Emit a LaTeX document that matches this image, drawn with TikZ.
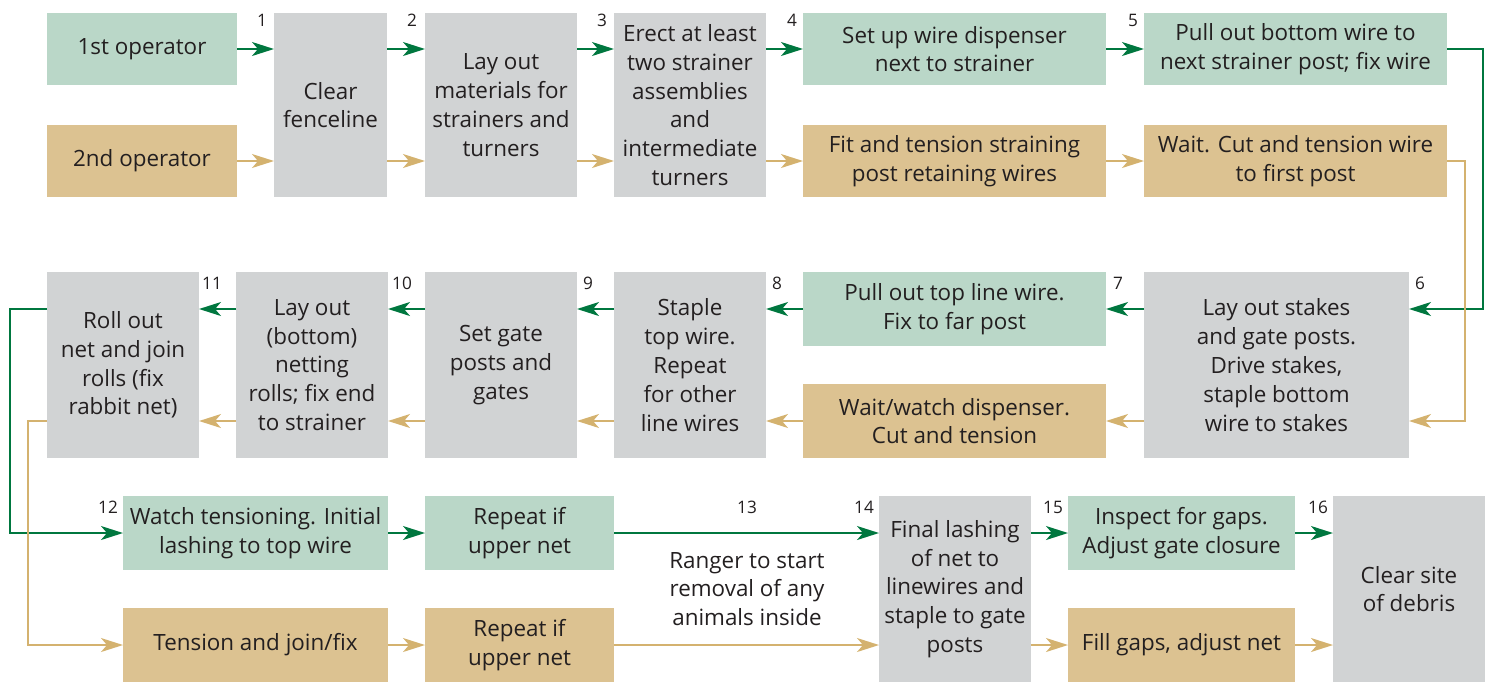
\documentclass[tikz,border=0pt]{standalone}
\usepackage{fontspec}
\setmainfont{Open Sans}
\usetikzlibrary{arrows.meta,calc}
\definecolor{gbox}{HTML}{BAD7C8}
\definecolor{tbox}{HTML}{DCC291}
\definecolor{ybox}{HTML}{D1D3D4}
\definecolor{gline}{HTML}{00773F}
\definecolor{tline}{HTML}{D4B26F}
\definecolor{txt}{HTML}{231F20}
\newcommand\bx[7]{%
  \pgfmathsetmacro\cx{(#3+#5)/2}\pgfmathsetmacro\cy{(#4+#6)/2}%
  \pgfmathsetmacro\ww{(#5-#3)*0.5}\pgfmathsetmacro\hh{(#6-#4)*0.5}%
  \node[#2, minimum width=\ww pt, minimum height=\hh pt] (#1) at (\cx,\cy) {#7};}
\begin{document}
\begin{tikzpicture}[x=0.5pt,y=-0.5pt,
  box/.style={inner sep=0pt,outer sep=0pt,align=center,text=txt,font=\fontsize{11.2}{14.4}\selectfont},
  gb/.style={box,fill=gbox},
  tb/.style={box,fill=tbox},
  yb/.style={box,fill=ybox},
  num/.style={text=txt,font=\fontsize{8.6}{10}\selectfont,inner sep=0pt},
  garr/.style={draw=gline,line width=0.9pt,-{Stealth[length=11pt,width=7pt,inset=3pt]}},
  tarr/.style={draw=tline,line width=0.8pt,-{Stealth[length=11pt,width=7pt,inset=3pt]}}]
\useasboundingbox (0,0) rectangle (1487,682);
% row 1
\bx{op1}{gb}{47}{13}{237}{85}{1st operator}
\bx{op2}{tb}{47}{125}{237}{197}{2nd operator}
\bx{clear}{yb}{274}{13}{387}{197}{Clear\\fenceline}
\bx{layout}{yb}{425}{13}{577}{197}{Lay out\\materials for\\strainers and\\turners}
\bx{erect}{yb}{614}{13}{766}{197}{Erect at least\\two strainer\\assemblies\\and\\intermediate\\turners}
\bx{setup}{gb}{803}{13}{1106}{85}{Set up wire dispenser\\next to strainer}
\bx{fit}{tb}{803}{125}{1106}{197}{Fit and tension straining\\post retaining wires}
\bx{pullb}{gb}{1144}{13}{1447}{85}{Pull out bottom wire to\\next strainer post; fix wire}
\bx{waitc}{tb}{1144}{125}{1447}{197}{Wait. Cut and tension wire\\to first post}
% row 2
\bx{roll}{yb}{47}{272}{199}{458}{Roll out\\net and join\\rolls (fix\\rabbit net)}
\bx{layb}{yb}{236}{272}{388}{458}{Lay out\\(bottom)\\netting\\rolls; fix end\\to strainer}
\bx{setg}{yb}{425}{272}{577}{458}{Set gate\\posts and\\gates}
\bx{staple}{yb}{614}{272}{766}{458}{Staple\\top wire.\\Repeat\\for other\\line wires}
\bx{topw}{gb}{803}{272}{1106}{346}{Pull out top line wire.\\Fix to far post}
\bx{waitw}{tb}{803}{384}{1106}{458}{Wait/watch dispenser.\\Cut and tension}
\bx{stakes}{yb}{1144}{272}{1409}{458}{Lay out stakes\\and gate posts.\\Drive stakes,\\staple bottom\\wire to stakes}
% row 3
\bx{watch}{gb}{123}{496}{388}{570}{Watch tensioning. Initial\\lashing to top wire}
\bx{tens}{tb}{123}{608}{388}{682}{Tension and join/fix}
\bx{rep1}{gb}{425}{496}{614}{570}{Repeat if\\upper net}
\bx{rep2}{tb}{425}{608}{614}{682}{Repeat if\\upper net}
\bx{final}{yb}{879}{496}{1031}{682}{Final lashing\\of net to\\linewires and\\staple to gate\\posts}
\bx{insp}{gb}{1068}{496}{1295}{570}{Inspect for gaps.\\Adjust gate closure}
\bx{fill}{tb}{1068}{608}{1295}{682}{Fill gaps, adjust net}
\bx{site}{yb}{1333}{496}{1485}{682}{Clear site\\of debris}
\node[box] (ranger) at (747,589) {Ranger to start\\removal of any\\animals inside};
% numbers
\node[num] (n1) at (262,20) {1};
\node[num] (n2) at (412,20) {2};
\node[num] (n3) at (602,20) {3};
\node[num] (n4) at (792,20) {4};
\node[num] (n5) at (1133,20) {5};
\node[num] (n6) at (1420,283) {6};
\node[num] (n7) at (1118,283) {7};
\node[num] (n8) at (777,283) {8};
\node[num] (n9) at (588,283) {9};
\node[num] (n10) at (402,283) {10};
\node[num] (n11) at (212,283) {11};
\node[num] (n12) at (108,507) {12};
\node[num] (n13) at (747,507) {13};
\node[num] (n14) at (864,507) {14};
\node[num] (n15) at (1053,507) {15};
\node[num] (n16) at (1318,507) {16};
% coordinates for loops
\coordinate (g6) at (1483,0);
\coordinate (t6) at (1465,0);
\coordinate (g12) at (10,0);
\coordinate (t12) at (28,0);
% row 1 arrows
\draw[garr] (op1.east) -- (clear.west |- op1.east);
\draw[tarr] (op2.east) -- (clear.west |- op2.east);
\draw[garr] (clear.east |- op1.east) -- (layout.west |- op1.east);
\draw[tarr] (clear.east |- op2.east) -- (layout.west |- op2.east);
\draw[garr] (layout.east |- op1.east) -- (erect.west |- op1.east);
\draw[tarr] (layout.east |- op2.east) -- (erect.west |- op2.east);
\draw[garr] (erect.east |- setup.west) -- (setup.west);
\draw[tarr] (erect.east |- fit.west) -- (fit.west);
\draw[garr] (setup.east) -- (pullb.west);
\draw[tarr] (fit.east) -- (waitc.west);
% turn 6
\draw[garr] (pullb.east) -| (g6 |- topw.east) -- (stakes.east |- topw.east);
\draw[tarr] (waitc.east) -| (t6 |- waitw.east) -- (stakes.east |- waitw.east);
% row 2 arrows
\draw[garr] (stakes.west |- topw.east) -- (topw.east);
\draw[tarr] (stakes.west |- waitw.east) -- (waitw.east);
\draw[garr] (topw.west) -- (staple.east |- topw.west);
\draw[tarr] (waitw.west) -- (staple.east |- waitw.west);
\draw[garr] (staple.west |- topw.west) -- (setg.east |- topw.west);
\draw[tarr] (staple.west |- waitw.west) -- (setg.east |- waitw.west);
\draw[garr] (setg.west |- topw.west) -- (layb.east |- topw.west);
\draw[tarr] (setg.west |- waitw.west) -- (layb.east |- waitw.west);
\draw[garr] (layb.west |- topw.west) -- (roll.east |- topw.west);
\draw[tarr] (layb.west |- waitw.west) -- (roll.east |- waitw.west);
% turn 12
\draw[garr] (roll.west |- topw.west) -| (g12 |- watch.west) -- (watch.west);
\draw[tarr] (roll.west |- waitw.west) -| (t12 |- tens.west) -- (tens.west);
% row 3 arrows
\draw[garr] (watch.east) -- (rep1.west);
\draw[tarr] (tens.east) -- (rep2.west);
\draw[garr] (rep1.east) -- (final.west |- rep1.east);
\draw[tarr] (rep2.east) -- (final.west |- rep2.east);
\draw[garr] (final.east |- insp.west) -- (insp.west);
\draw[tarr] (final.east |- fill.west) -- (fill.west);
\draw[garr] (insp.east) -- (site.west |- insp.east);
\draw[tarr] (fill.east) -- (site.west |- fill.east);
\end{tikzpicture}
\end{document}
